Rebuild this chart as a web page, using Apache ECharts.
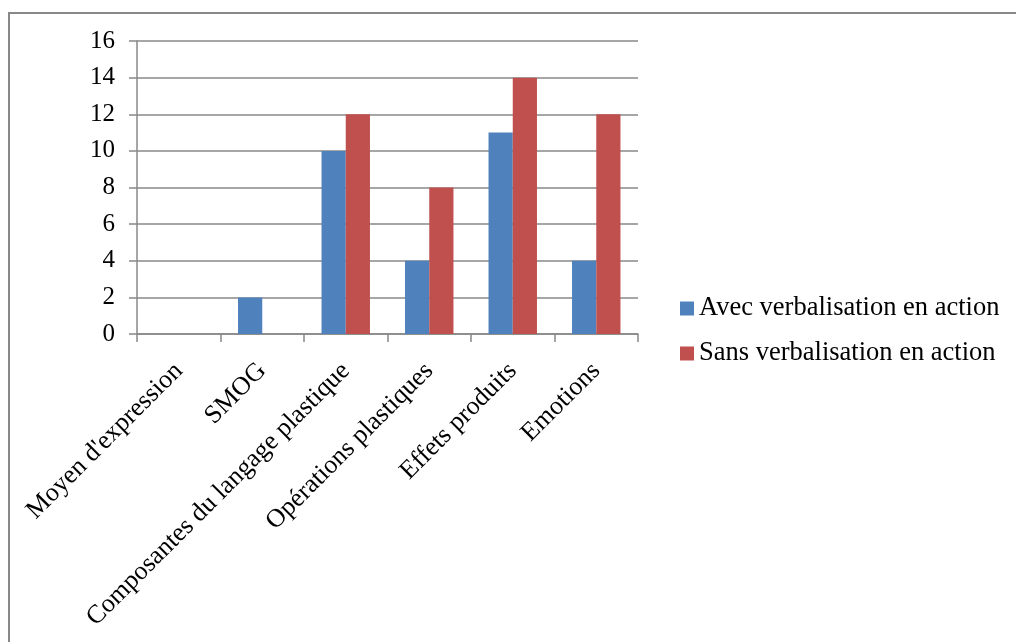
<!DOCTYPE html>
<html>
<head>
<meta charset="utf-8">
<script src="https://cdn.jsdelivr.net/npm/echarts@6/dist/echarts.min.js"></script>
<style>
  html, body { margin: 0; padding: 0; background: #fff; }
  #chart { width: 1016px; height: 642px; }
</style>
</head>
<body>
<div id="chart"></div>
<script>
const categories = [
  "Moyen d'expression",
  "SMOG",
  "Composantes du langage plastique",
  "Opérations plastiques",
  "Effets produits",
  "Emotions"
];
const avecValues = [0, 2, 10, 4, 11, 4];
const sansValues = [0, 0, 12, 8, 14, 12];
const seriesNames = ["Avec verbalisation en action", "Sans verbalisation en action"];
const yTicks = [0, 2, 4, 6, 8, 10, 12, 14, 16];

const FONT = "'Liberation Serif', 'DejaVu Serif', serif";
const GRAY = '#888888';

const chart = echarts.init(document.getElementById('chart'), null, { renderer: 'canvas' });

chart.setOption({
  animation: false,
  backgroundColor: '#ffffff',
  textStyle: { fontFamily: FONT },
  graphic: [{
    type: 'rect',
    shape: { x: 9, y: 13, width: 1200, height: 800 },
    style: { fill: 'none', stroke: GRAY, lineWidth: 2 },
    silent: true
  }],
  grid: { left: 137, top: 41, right: 378, bottom: 308, containLabel: false },
  legend: {
    orient: 'vertical',
    left: 680,
    top: 295,
    padding: 0,
    itemWidth: 14,
    itemHeight: 14,
    itemGap: 18,
    icon: 'rect',
    textStyle: { fontFamily: FONT, fontSize: 26.5, color: '#000', lineHeight: 27 },
    data: seriesNames
  },
  xAxis: {
    type: 'category',
    data: categories,
    axisLine: { lineStyle: { color: GRAY, width: 1.5 } },
    axisTick: { show: true, length: 8, lineStyle: { color: GRAY, width: 1.5 } },
    axisLabel: {
      interval: 0,
      rotate: 45,
      margin: 33,
      fontFamily: FONT,
      fontSize: 26,
      color: '#000'
    }
  },
  yAxis: {
    type: 'value',
    min: yTicks[0],
    max: yTicks[yTicks.length - 1],
    interval: 2,
    axisLine: { show: true, lineStyle: { color: GRAY, width: 1.5 } },
    axisTick: { show: true, length: 8, lineStyle: { color: GRAY, width: 1.5 } },
    splitLine: { show: true, lineStyle: { color: GRAY, width: 1.5 } },
    axisLabel: {
      margin: 22,
      fontFamily: FONT,
      fontSize: 25,
      color: '#000'
    }
  },
  series: [
    {
      name: seriesNames[0],
      type: 'bar',
      data: avecValues,
      barGap: '0%',
      barCategoryGap: '42%',
      itemStyle: { color: '#4F81BD' }
    },
    {
      name: seriesNames[1],
      type: 'bar',
      data: sansValues,
      barGap: '0%',
      barCategoryGap: '42%',
      itemStyle: { color: '#C0504D' }
    }
  ]
});
</script>
</body>
</html>
